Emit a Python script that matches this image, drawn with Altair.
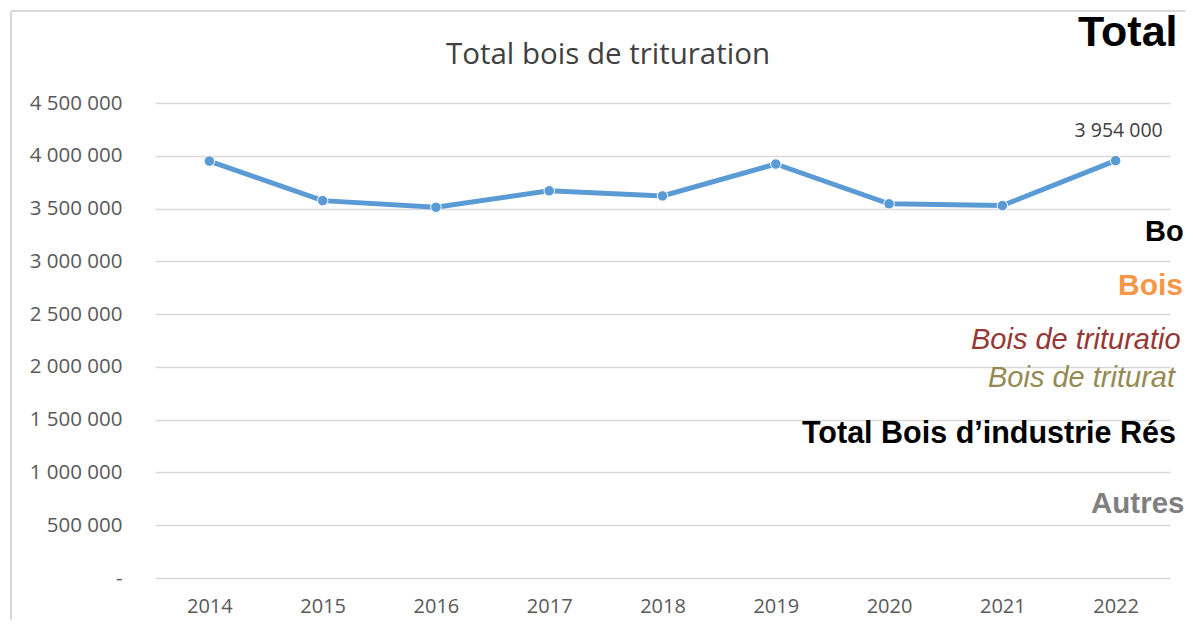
import altair as alt
import pandas as pd

# ---- data ----
years = ["2014", "2015", "2016", "2017", "2018", "2019", "2020", "2021", "2022"]
values = [3950000, 3575000, 3512000, 3668000, 3620000, 3922000, 3545000, 3528000, 3954000]
y_ticks = [0, 500000, 1000000, 1500000, 2000000, 2500000, 3000000, 3500000, 4000000, 4500000]
chart_title = "Total bois de trituration"
labelled_year = "2022"

# text of the slide behind the chart (visible parts)
overlay_texts = ["Total", "Bo", "Bois", "Bois de trituratio", "Bois de triturat",
                 "Total Bois d\u2019industrie Rés", "Autres"]

# ---- layout / styles (plot-area pixel coordinates) ----
overlay_layout = [
    dict(x=923, y=-57, size=43, weight="bold", style="normal", color="#000000"),
    dict(x=990, y=138, size=29, weight="bold", style="normal", color="#000000"),
    dict(x=963, y=192, size=30, weight="bold", style="normal", color="#F79646"),
    dict(x=816, y=246, size=29, weight="normal", style="italic", color="#953735"),
    dict(x=833, y=284, size=29, weight="normal", style="italic", color="#948A54"),
    dict(x=647, y=340, size=30.5, weight="bold", style="normal", color="#000000"),
    dict(x=936, y=410, size=29.5, weight="bold", style="normal", color="#7F7F7F"),
]

W, H = 1015, 475
PAD = {"left": 147, "top": 95, "right": 15, "bottom": 42}

df = pd.DataFrame({"year": years, "value": values})
one = alt.Data(values=[{"k": 0}])

space_fmt = "replace(format(datum.value, ',d'), regexp(',', 'g'), ' ')"

x_enc = alt.X(
    "year:O",
    sort=years,
    scale=alt.Scale(type="point", padding=0.48),
    axis=alt.Axis(title=None, labelAngle=0, domain=False, ticks=False, grid=False,
                  labelFont="Open Sans", labelFontSize=20, labelColor="#595959",
                  labelPadding=18),
)
y_enc = alt.Y(
    "value:Q",
    scale=alt.Scale(domain=[0, 4500000], nice=False, zero=True),
    axis=alt.Axis(title=None, values=y_ticks, domain=False, ticks=False, grid=True,
                  gridColor="#D9D9D9", gridWidth=1.5,
                  labelExpr="datum.value == 0 ? '-\u00a0\u00a0\u00a0' : " + space_fmt,
                  labelFont="Open Sans", labelFontSize=20.5, labelColor="#595959",
                  labelPadding=33),
)

base = alt.Chart(df)

line = base.mark_line(color="#5B9BD5", strokeWidth=5).encode(x=x_enc, y=y_enc)
points = base.mark_circle(size=110, color="#5B9BD5", opacity=1,
                          stroke="#ffffff", strokeWidth=1).encode(x=x_enc, y=y_enc)
data_label = (
    base.transform_filter(alt.datum.year == labelled_year)
    .transform_calculate(lbl=space_fmt)
    .mark_text(dy=-30, dx=3, font="Open Sans", fontSize=19.5, color="#404040")
    .encode(x=x_enc, y=y_enc, text="lbl:N")
)

title = alt.Chart(one).mark_text(
    font="Open Sans", fontSize=29.5, color="#404040", align="center", baseline="alphabetic"
).encode(x=alt.value(453), y=alt.value(-39), text=alt.value(chart_title))

frame_top = alt.Chart(one).mark_rule(color="#D9D9D9", strokeWidth=2).encode(
    x=alt.value(-144), x2=alt.value(1040), y=alt.value(-92))
frame_left = alt.Chart(one).mark_rule(color="#D9D9D9", strokeWidth=2).encode(
    x=alt.value(-144), y=alt.value(-92), y2=alt.value(530))

overlays = []
for txt, lay in zip(overlay_texts, overlay_layout):
    overlays.append(
        alt.Chart(one).mark_text(
            font="Liberation Sans", fontSize=lay["size"], fontWeight=lay["weight"],
            fontStyle=lay["style"], color=lay["color"], align="left", baseline="alphabetic"
        ).encode(x=alt.value(lay["x"]), y=alt.value(lay["y"]), text=alt.value(txt))
    )

chart = (
    alt.layer(frame_top, frame_left, line, points, data_label, title, *overlays)
    .properties(width=W, height=H, padding=PAD,
                autosize=alt.AutoSizeParams(type="none"), background="#ffffff")
    .configure_view(stroke=None)
)

chart.save("out.html", embed_options={"renderer": "svg", "actions": False})
